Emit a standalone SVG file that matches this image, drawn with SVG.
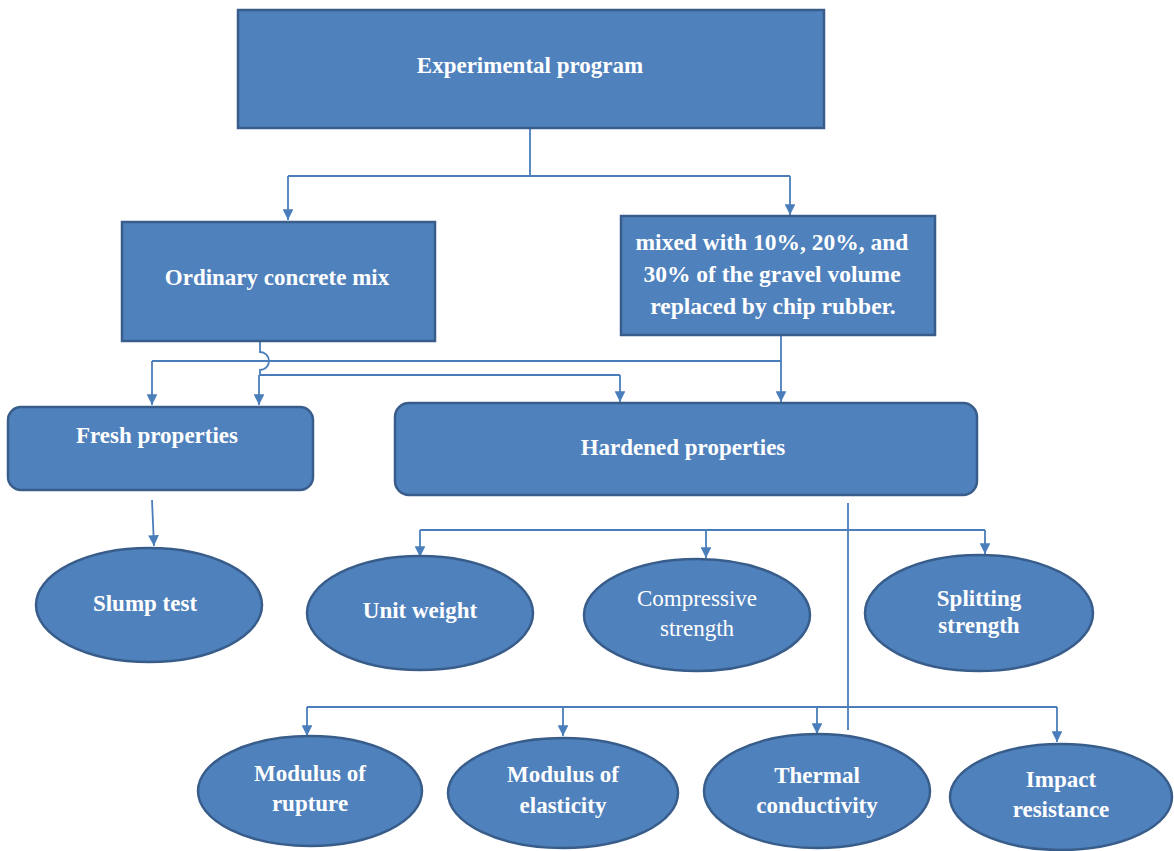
<svg xmlns="http://www.w3.org/2000/svg" width="1174" height="851" viewBox="0 0 1174 851">
<style>
.n{fill:#4F81BD;stroke:#385D8A;stroke-width:2.5}
.t{font-family:"Liberation Serif","DejaVu Serif",serif;font-size:23px;font-weight:bold;fill:#fff;text-anchor:middle;dominant-baseline:middle}
.r{font-weight:normal}
.w{font-size:23.5px}
.c{fill:none;stroke:#4A7EBB;stroke-width:1.8}
</style>
<defs>
<marker id="a" viewBox="0 0 10 10" refX="10" refY="5" markerWidth="6" markerHeight="6" orient="auto" markerUnits="strokeWidth">
<path d="M0,0 L10,5 L0,10 z" fill="#4A7EBB"/>
</marker>
</defs>
<rect width="1174" height="851" fill="#fff"/>
<g id="connectors">
<path class="c" d="M530,128 V176 M288,176 H790"/>
<path class="c" d="M288,176 V220" marker-end="url(#a)"/>
<path class="c" d="M790,176 V215" marker-end="url(#a)"/>
<path class="c" d="M781,335 V361 H152"/>
<path class="c" d="M152,361 V405" marker-end="url(#a)"/>
<path class="c" d="M781,361 V402" marker-end="url(#a)"/>
<path class="c" d="M260,341 V352 A9,9 0 0 1 260,370 V375 H620"/>
<path class="c" d="M620,375 V402" marker-end="url(#a)"/>
<path class="c" d="M259,375 V405" marker-end="url(#a)"/>
<path class="c" d="M152,500 L154,546" marker-end="url(#a)"/>
<path class="c" d="M848,503 V730 M420,530 H985"/>
<path class="c" d="M420,530 V557" marker-end="url(#a)"/>
<path class="c" d="M706,530 V558" marker-end="url(#a)"/>
<path class="c" d="M985,530 V554" marker-end="url(#a)"/>
<path class="c" d="M307,707 H1057"/>
<path class="c" d="M307,707 V736" marker-end="url(#a)"/>
<path class="c" d="M563,707 V736" marker-end="url(#a)"/>
<path class="c" d="M817,707 V734" marker-end="url(#a)"/>
<path class="c" d="M1057,707 V742" marker-end="url(#a)"/>
</g>
<g id="experimental-program"><rect class="n" x="238" y="10" width="586" height="118"/><text class="t" x="530" y="68">Experimental program</text></g>
<g id="ordinary-mix"><rect class="n" x="122" y="222" width="313" height="119"/><text class="t" x="277" y="280">Ordinary concrete mix</text></g>
<g id="rubber-mix"><rect class="n" x="621" y="216" width="314" height="119"/>
<text class="t w" x="772" y="245">mixed with 10%, 20%, and</text>
<text class="t w" x="772" y="277">30% of the gravel volume</text>
<text class="t w" x="773" y="309">replaced by chip rubber.</text></g>
<g id="fresh"><rect class="n" x="8" y="407" width="305" height="83" rx="13"/><text class="t" x="157" y="438">Fresh properties</text></g>
<g id="hardened"><rect class="n" x="395" y="403" width="582" height="92" rx="14"/><text class="t" x="683" y="450">Hardened properties</text></g>
<g id="slump"><ellipse class="n" cx="149" cy="605" rx="113" ry="57"/><text class="t" x="145" y="606">Slump test</text></g>
<g id="unit-weight"><ellipse class="n" cx="420" cy="613" rx="113" ry="57"/><text class="t" x="420" y="613">Unit weight</text></g>
<g id="compressive"><ellipse class="n" cx="697" cy="615" rx="113" ry="56"/><text class="t r" x="697" y="601">Compressive</text><text class="t r" x="697" y="631">strength</text></g>
<g id="splitting"><ellipse class="n" cx="979" cy="613" rx="114" ry="58"/><text class="t" x="979" y="601">Splitting</text><text class="t" x="979" y="628">strength</text></g>
<g id="rupture"><ellipse class="n" cx="310" cy="791" rx="112" ry="55"/><text class="t" x="310" y="776">Modulus of</text><text class="t" x="310" y="806">rupture</text></g>
<g id="elasticity"><ellipse class="n" cx="563" cy="793" rx="115" ry="55"/><text class="t" x="563" y="777">Modulus of</text><text class="t" x="563" y="808">elasticity</text></g>
<g id="thermal"><ellipse class="n" cx="817" cy="791" rx="113" ry="57"/><text class="t" x="817" y="778">Thermal</text><text class="t" x="817" y="808">conductivity</text></g>
<g id="impact"><ellipse class="n" cx="1061" cy="797" rx="111" ry="53"/><text class="t" x="1061" y="782">Impact</text><text class="t" x="1061" y="812">resistance</text></g>
</svg>
